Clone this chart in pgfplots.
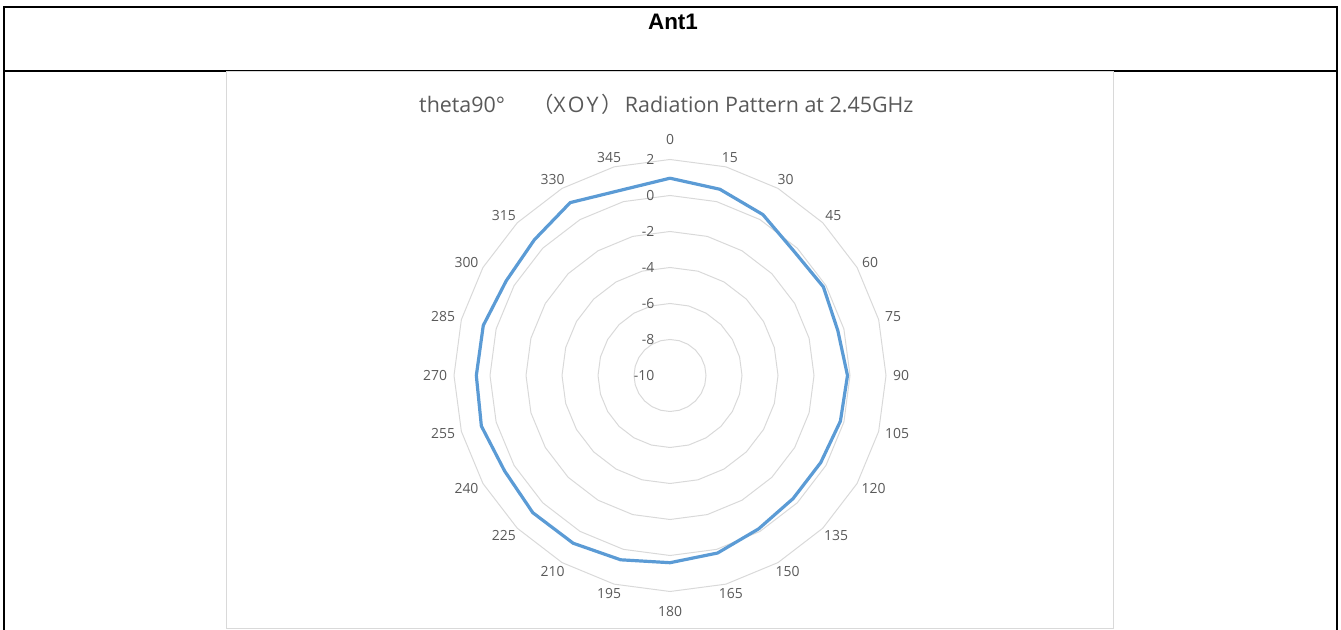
\documentclass[border=0pt]{standalone}
\usepackage{fontspec}
\setmainfont{Open Sans}
\newfontfamily\cjk{Noto Sans CJK SC}
\newfontfamily\headfont{Liberation Sans}
\usepackage{pgfplots}
\usepackage{pgfplotstable}
\pgfplotsset{compat=1.18}

\definecolor{ringgray}{HTML}{D9D9D9}
\definecolor{labgray}{HTML}{595959}
\definecolor{patblue}{HTML}{5B9BD5}

% gain (dB) against phi, theta = 90 deg
\pgfplotstableread{
a   db
0   0.96
15  0.71
30  0.32
45  -0.25
60  -0.16
75  -0.35
90  -0.14
105 -0.20
120 -0.33
135 -0.33
150 -0.16
165 0.21
180 0.40
195 0.60
210 0.76
225 0.78
240 0.61
255 0.85
270 0.76
285 0.74
300 0.51
315 0.66
330 1.09
345 0.65
360 0.96
}\gaintab

\pgfplotsset{ring/.style={ringgray, line width=1bp, mark=none}}

\begin{document}
\begin{tikzpicture}[x=1bp,y=1bp]
\useasboundingbox (0,0) rectangle (1341,630);
% table round the chart
\draw[line width=2bp] (4,0) -- (4,623) -- (1337,623) -- (1337,0);
\draw[line width=2bp] (4,559) -- (1337,559);
\node[anchor=base, inner sep=0pt, font=\headfont\bfseries\fontsize{22.5}{26}\selectfont] at (673,600.5) {Ant1};
% chart area
\draw[ringgray, line width=1bp] (226.5,1) rectangle (1113.5,558);
\node[labgray, anchor=base west, inner sep=0pt, font=\fontsize{21.5}{26}\selectfont] at (419,517)
  {theta90°\hspace{27bp}{\cjk （}X\hspace{2bp}O\hspace{2bp}Y\hspace{2.5bp}{\cjk ）}\hspace{2.5bp}Radiation Pattern at 2.45GHz};

\begin{axis}[
    at={(670bp,254.5bp)}, anchor=center,
    x=18bp, y=18bp,
    xmin=-13, xmax=13, ymin=-13, ymax=13,
    hide axis, clip=false,
]
% grid polygons at -8, -6, ..., 2 dB (radius = dB + 10), clockwise from top
\addplot[ring] table[x expr={2*sin(\thisrow{a})}, y expr={2*cos(\thisrow{a})}] {\gaintab};
\addplot[ring] table[x expr={4*sin(\thisrow{a})}, y expr={4*cos(\thisrow{a})}] {\gaintab};
\addplot[ring] table[x expr={6*sin(\thisrow{a})}, y expr={6*cos(\thisrow{a})}] {\gaintab};
\addplot[ring] table[x expr={8*sin(\thisrow{a})}, y expr={8*cos(\thisrow{a})}] {\gaintab};
\addplot[ring] table[x expr={10*sin(\thisrow{a})}, y expr={10*cos(\thisrow{a})}] {\gaintab};
\addplot[ring] table[x expr={12*sin(\thisrow{a})}, y expr={12*cos(\thisrow{a})}] {\gaintab};

\addplot[patblue, line width=3.2bp, line join=round, mark=none]
  table[x expr={(\thisrow{db}+10)*sin(\thisrow{a})},
        y expr={(\thisrow{db}+10)*cos(\thisrow{a})}] {\gaintab};

% radial axis labels
\foreach \r/\t in {0/-10,2/-8,4/-6,6/-4,8/-2,10/0,12/2}{
  \edef\tmp{\noexpand\node[labgray, anchor=east, inner sep=0pt, font=\noexpand\fontsize{14}{16}\noexpand\selectfont]
    at (axis cs:-0.86,\r) {\t};}
  \tmp
}
% category labels: angle / sideways gap / vertical gap (px)
\foreach \k/\h/\c in {0/11/20,15/15/10,30/15/10,45/15/10,60/15/10,75/15/10,90/15/10,
    105/19/10,120/19/10,135/19/10,150/19/10,165/19/10,180/19/20,195/19/10,210/19/10,
    225/19/10,240/19/10,255/19/10,270/19/10,285/19/10,300/19/10,315/19/10,330/19/10,345/19/10}{
  \edef\tmp{\noexpand\node[labgray, inner sep=0pt, font=\noexpand\fontsize{14}{16}\noexpand\selectfont]
    at (axis cs:{(12+\h/18)*sin(\k)},{(12+\c/18)*cos(\k)}) {\k};}
  \tmp
}
\end{axis}
\end{tikzpicture}
\end{document}
